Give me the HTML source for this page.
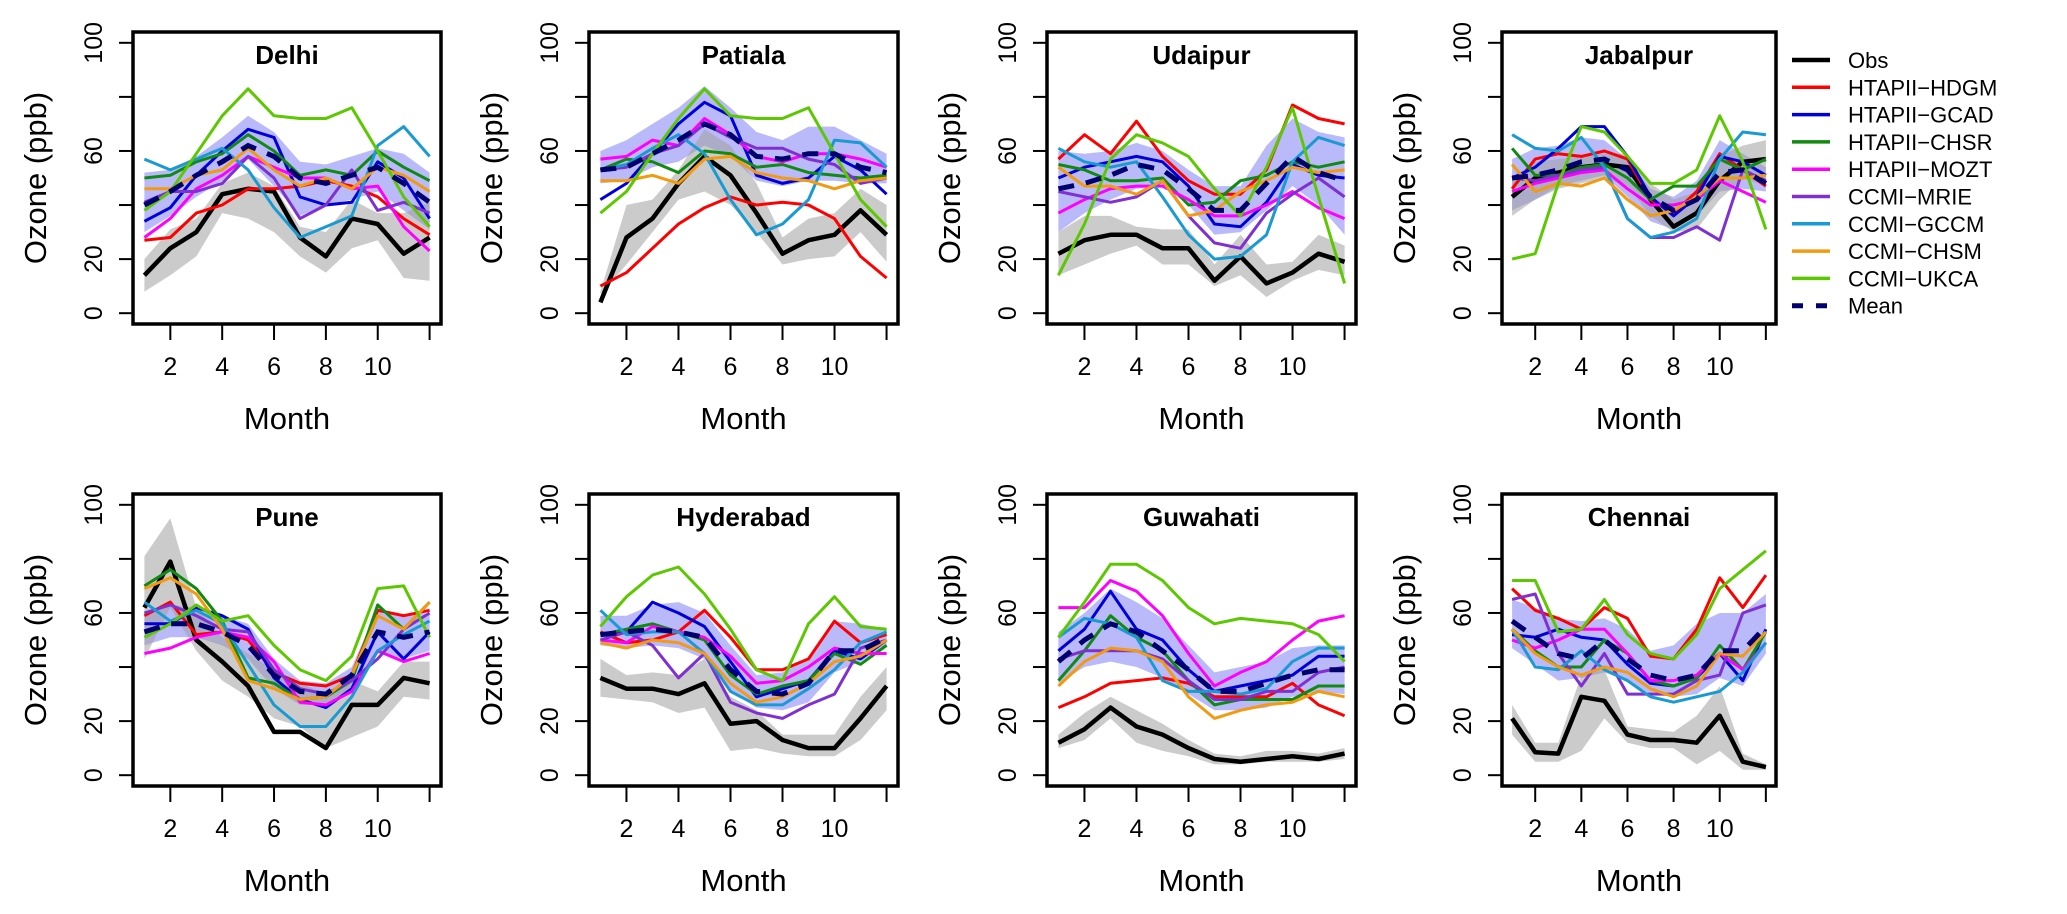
<!DOCTYPE html>
<html><head><meta charset="utf-8"><style>
html,body{margin:0;padding:0;background:#fff;}
svg{display:block;font-family:"Liberation Sans",Arial,sans-serif;}
</style></head><body>
<svg id="chart" width="2067" height="914" viewBox="0 0 2067 914" xmlns="http://www.w3.org/2000/svg">
<g id="legend"></g>
</svg>
<script>
const cities = ["Delhi","Patiala","Udaipur","Jabalpur","Pune","Hyderabad","Guwahati","Chennai"];
const months = [1,2,3,4,5,6,7,8,9,10,11,12];
const xTickLabels = ["2","4","6","8","10"];
const yTickValues = [0,20,40,60,80,100];
const yTickLabels = ["0","20","","60","","100"];
const seriesNames = ["Obs","HTAPII−HDGM","HTAPII−GCAD","HTAPII−CHSR","HTAPII−MOZT","CCMI−MRIE","CCMI−GCCM","CCMI−CHSM","CCMI−UKCA","Mean"];

const obsVals = [
 [14,24,30,44,46,45,28,21,35,33,22,28],
 [4,28,35,48,58,51,37,22,27,29,38,29],
 [22,27,29,29,24,24,12,21,11,15,22,19],
 [43,50,52,54,55,54,42,32,37,49,56,57],
 [62,79,50,42,33,16,16,10,26,26,36,34],
 [36,32,32,30,34,19,20,13,10,10,21,33],
 [12,17,25,18,15,10,6,5,6,7,6,8],
 [21,8.5,8,29,27.5,15,13,13,12,22,5,3]];
const obsLo = [
 [8,14,21,37,35,30,21,15,24,27,13,12],
 [7,18,30,42,45,40,30,18,20,21,30,19],
 [14,18,22,25,18,18,10,14,6,12,16,14],
 [36,42,46,48,50,47,36,30,31,42,50,47],
 [43,62,46,35,29,21,18,10,14,18,29,28],
 [29,28,27,23,25,9,10,8,7,7,13,24],
 [10,13,21,12,9,7,4,4,5,5,5,6],
 [15,5,5,9,21,12,10,10,4,9,2,2]];
const obsHi = [
 [20,31,35,48,52,47,32,30,42,37,37,41],
 [8,40,42,53,68,62,48,28,35,37,46,40],
 [30,36,36,32,31,31,18,29,18,19,29,25],
 [50,56,57,58,59,59,48,42,45,58,62,64],
 [81,95,62,51,45,39,34,30,35,31,42,42],
 [43,37,38,37,43,29,24,15,15,15,29,40],
 [15,23,29,24,19,13,8,7,9,9,8,10],
 [26,12,12,37,39,18,17,16,22,33,8,4]];
const bandLo = [
 [30,36,43,49,57,47,36,40,42,45,38,31],
 [48,49,54,56,62,58,49,47,49,49,48,48],
 [30,37,42,46,47,40,29,30,38,47,40,29],
 [38,42,47,49,51,43,34,31,36,45,46,45],
 [48,51,51,48,43,32,26,26,32,45,43,46],
 [48,47,48,47,43,31,25,24,27,38,42,48],
 [34,40,42,40,36,30,24,24,25,29,31,30],
 [47,41,35,36,38,35,30,29,30,36,33,45]];
const bandHi = [
 [52,53,58,65,73,67,56,55,58,61,59,52],
 [60,64,70,76,84,76,67,64,69,69,64,59],
 [60,59,60,63,60,53,47,47,62,72,67,65],
 [57,61,62,65,64,57,46,43,49,64,59,54],
 [60,63,62,59,56,43,35,34,40,62,59,60],
 [59,59,63,64,60,48,37,38,43,57,56,54],
 [53,60,69,64,58,48,38,40,42,47,48,48],
 [65,62,58,57,58,54,46,48,56,60,60,67]];
const hdgmVals = [
 [27,28,37,40,46,46,47,49,47,43,35,29],
 [10,15,24,33,39,43,40,41,40,35,21,13],
 [57,66,59,71,58,49,44,44,53,77,72,70],
 [46,57,59,58,60,57,42,37,45,59,53,47],
 [59,64,52,53,50,38,34,33,37,61,59,61],
 [53,49,50,53,61,51,39,39,43,57,49,52],
 [25,29,34,35,36,34,29,29,29,34,26,22],
 [69,61,58,54,62,58,44,43,54,73,62,74]];
const gcadVals = [
 [34,39,51,60,68,65,43,40,41,56,50,35],
 [42,48,59,70,78,73,51,48,50,58,53,44],
 [50,54,56,58,56,47,33,32,41,55,51,50],
 [50,54,61,69,69,58,43,36,43,58,56,51],
 [56,56,62,59,54,36,28,25,32,53,43,53],
 [52,53,64,60,55,42,29,32,35,46,43,50],
 [46,54,68,54,50,39,31,33,35,37,44,44],
 [52,51,54,51,50,41,34,33,36,45,35,54]];
const chsrVals = [
 [50,51,56,59,66,60,51,53,51,60,54,49],
 [53,57,56,52,60,59,54,55,52,51,50,51],
 [55,53,49,49,50,40,41,49,51,56,54,56],
 [61,51,51,54,55,50,42,47,47,57,53,57],
 [70,76,69,57,36,34,28,29,35,63,54,64],
 [52,54,56,53,50,37,30,33,35,45,41,48],
 [35,46,59,51,46,35,26,28,28,28,33,33],
 [54,46,40,40,50,45,35,33,36,48,39,53]];
const moztVals = [
 [28,35,46,51,58,54,50,50,46,47,32,23],
 [57,58,64,62,72,66,58,56,59,59,57,54],
 [37,42,46,47,47,42,36,36,40,45,39,35],
 [45,48,50,52,53,46,40,40,42,49,45,41],
 [45,47,51,53,51,42,27,26,31,46,42,45],
 [50,49,55,53,51,44,34,35,40,47,45,45],
 [62,62,72,68,59,45,33,38,42,50,57,59],
 [50,47,50,54,54,45,35,35,37,45,39,49]];
const mrieVals = [
 [41,45,45,48,58,50,35,40,53,38,41,37],
 [53,54,59,62,70,65,61,61,57,55,48,50],
 [45,43,41,43,49,36,26,24,37,44,50,43],
 [50,49,51,53,54,35,28,28,32,27,53,49],
 [60,63,59,54,53,39,32,30,35,43,54,60],
 [50,53,48,36,45,27,23,21,26,30,47,50],
 [43,46,46,46,43,35,28,28,31,31,38,40],
 [65,67,45,33,45,30,30,30,35,37,60,63]];
const gccmVals = [
 [57,53,57,61,53,39,28,32,36,62,69,58],
 [53,55,61,66,59,42,29,33,42,64,63,54],
 [61,56,54,56,43,29,20,21,29,56,65,62],
 [66,61,60,65,54,35,28,30,35,57,67,66],
 [64,57,61,56,41,26,18,18,29,46,52,57],
 [61,52,53,53,45,31,26,26,32,39,49,53],
 [51,58,56,51,35,31,31,30,32,42,47,47],
 [54,40,39,46,39,35,29,27,29,31,38,49]];
const chsmVals = [
 [46,46,51,53,61,53,47,50,46,54,51,45],
 [49,49,51,48,57,58,52,50,49,46,49,50],
 [54,47,47,44,49,36,38,45,49,54,52,53],
 [55,45,48,47,50,42,36,38,43,50,50,51],
 [69,73,67,54,35,32,28,29,37,59,54,64],
 [49,47,50,49,45,34,27,29,34,42,44,50],
 [33,42,47,46,42,29,21,24,26,27,31,29],
 [54,45,40,37,40,38,32,29,33,45,44,53]];
const ukcaVals = [
 [38,45,59,73,83,73,72,72,76,60,43,32],
 [37,45,59,72,83,73,72,72,76,59,42,32],
 [14,33,57,66,63,58,46,36,54,76,43,11],
 [20,22,48,69,67,58,48,48,53,73,56,31],
 [51,56,63,57,59,48,39,35,44,69,70,51],
 [55,66,74,77,67,54,39,35,56,66,55,54],
 [51,64,78,78,72,62,56,58,57,56,52,42],
 [72,72,53,54,65,52,45,43,52,69,76,83]];
const meanVals = [
 [40,45,51,56,62,58,50,48,51,54,48,41],
 [53,54,59,64,70,66,58,57,59,59,54,52],
 [46,48,51,55,53,46,38,38,48,58,52,49],
 [50,51,53,56,57,53,43,38,42,52,53,48],
 [53,56,56,53,48,37,31,30,37,53,51,53],
 [52,53,54,53,51,39,31,30,34,46,46,51],
 [42,50,56,53,46,39,31,31,34,37,39,39],
 [57,51,45,43,50,43,37,35,37,46,46,55]];

const modelSets = [hdgmVals,gcadVals,chsrVals,moztVals,mrieVals,gccmVals,chsmVals,ukcaVals];
const modelColors = ["#ff0000","#0000d8","#108a10","#ff00ff","#8030d0","#1a9ad2","#f29a10","#5cc800"];
const modelKeys = ["hdgm","gcad","chsr","mozt","mrie","gccm","chsm","ukca"];

const NS = "http://www.w3.org/2000/svg";
const svg = document.getElementById("chart");
const panelLeft = [133,589,1047,1502];
const panelW = [308,309,309,274];
const rowTop = [32,494];
const boxH = 292;

function mk(tag, attrs, parent){
  const e = document.createElementNS(NS, tag);
  for (const k in attrs) e.setAttribute(k, attrs[k]);
  (parent||svg).appendChild(e);
  return e;
}
function xScale(left, w, m){ return left + (m - 0.56) / 11.88 * w; }
function yScale(top, v){ return top + (104 - v) / 108 * boxH; }

cities.forEach((city, ci) => {
  const col = ci % 4, row = Math.floor(ci / 4);
  const L = panelLeft[col], W = panelW[col], T = rowTop[row];
  const X = m => xScale(L, W, m), Y = v => yScale(T, v);
  const slug = city.toLowerCase();
  const g = mk("g", {});
  
  

  const area = (hi, lo) => {
    let d = months.map((m,i)=>(i?"L":"M")+X(m).toFixed(1)+","+Y(hi[i]).toFixed(1)).join("");
    d += months.slice().reverse().map((m,j)=>"L"+X(m).toFixed(1)+","+Y(lo[11-j]).toFixed(1)).join("")+"Z";
    return d;
  };
  const mb = mk("path", {d:area(bandHi[ci], bandLo[ci]), fill:"rgba(90,90,245,0.42)", stroke:"none"}, g);
  
  

  const ob = mk("path", {d:area(obsHi[ci], obsLo[ci]), fill:"rgba(160,160,160,0.55)", stroke:"none"}, g);
  
  

  const pts = arr => months.map((m,i)=>X(m).toFixed(1)+","+Y(arr[i]).toFixed(1)).join(" ");

  const obsLine = mk("polyline", {points:pts(obsVals[ci]), fill:"none", stroke:"#000", "stroke-width":4.5, "stroke-linejoin":"round"}, g);
  
  

  modelSets.forEach((s, si) => {
    const pl = mk("polyline", {points:pts(s[ci]), fill:"none", stroke:modelColors[si], "stroke-width":3, "stroke-linejoin":"round"}, g);
    
    
  });

  const meanLine = mk("polyline", {points:pts(meanVals[ci]), fill:"none", stroke:"#00006e", "stroke-width":5, "stroke-dasharray":"16,12"}, g);
  
  

  const box = mk("rect", {x:L, y:T, width:W, height:boxH, fill:"none", stroke:"#000", "stroke-width":3.5}, g);
  
  

  const title = mk("text", {x:L+W/2, y:T+32, "text-anchor":"middle", "font-size":26, "font-weight":"bold"}, g);
  title.textContent = city;
  
  

  yTickValues.forEach((v, i) => {
    const tk = mk("line", {x1:L-14, x2:L, y1:Y(v), y2:Y(v), stroke:"#000", "stroke-width":2}, g);
    
    
    if (yTickLabels[i]) {
      const tx = mk("text", {x:0, y:0, "text-anchor":"middle", "font-size":25, transform:"translate("+(L-31)+","+Y(v)+") rotate(-90)"}, g);
      tx.textContent = yTickLabels[i];
      
      
    }
  });
  const yt = mk("text", {x:0, y:0, "text-anchor":"middle", "font-size":31, transform:"translate("+(L-87)+","+(T+boxH/2)+") rotate(-90)"}, g);
  yt.textContent = "Ozone (ppb)";
  
  

  [2,4,6,8,10,12].forEach(m => {
    const tk = mk("line", {x1:X(m), x2:X(m), y1:T+boxH, y2:T+boxH+16, stroke:"#000", "stroke-width":2}, g);
    
    
  });
  xTickLabels.forEach((lab, i) => {
    const tx = mk("text", {x:X(2+2*i), y:T+boxH+51, "text-anchor":"middle", "font-size":25}, g);
    tx.textContent = lab;
    
    
  });
  const xt = mk("text", {x:L+W/2, y:T+boxH+105, "text-anchor":"middle", "font-size":31}, g);
  xt.textContent = "Month";
  
  
});

const leg = document.getElementById("legend");
const legColors = ["#000"].concat(modelColors).concat(["#00006e"]);
seriesNames.forEach((nm, i) => {
  const y = 60 + i * 27.3;
  const ln = mk("line", {x1:1792, x2:1830, y1:y, y2:y, stroke:legColors[i], "stroke-width": i===0?4.5:(i===9?5:3.5)}, leg);
  if (i === 9) ln.setAttribute("stroke-dasharray", "11,13");
  
  
  const tx = mk("text", {x:1848, y:y+8, "font-size":22}, leg);
  tx.textContent = nm;
  
  
});
</script>
</body></html>
